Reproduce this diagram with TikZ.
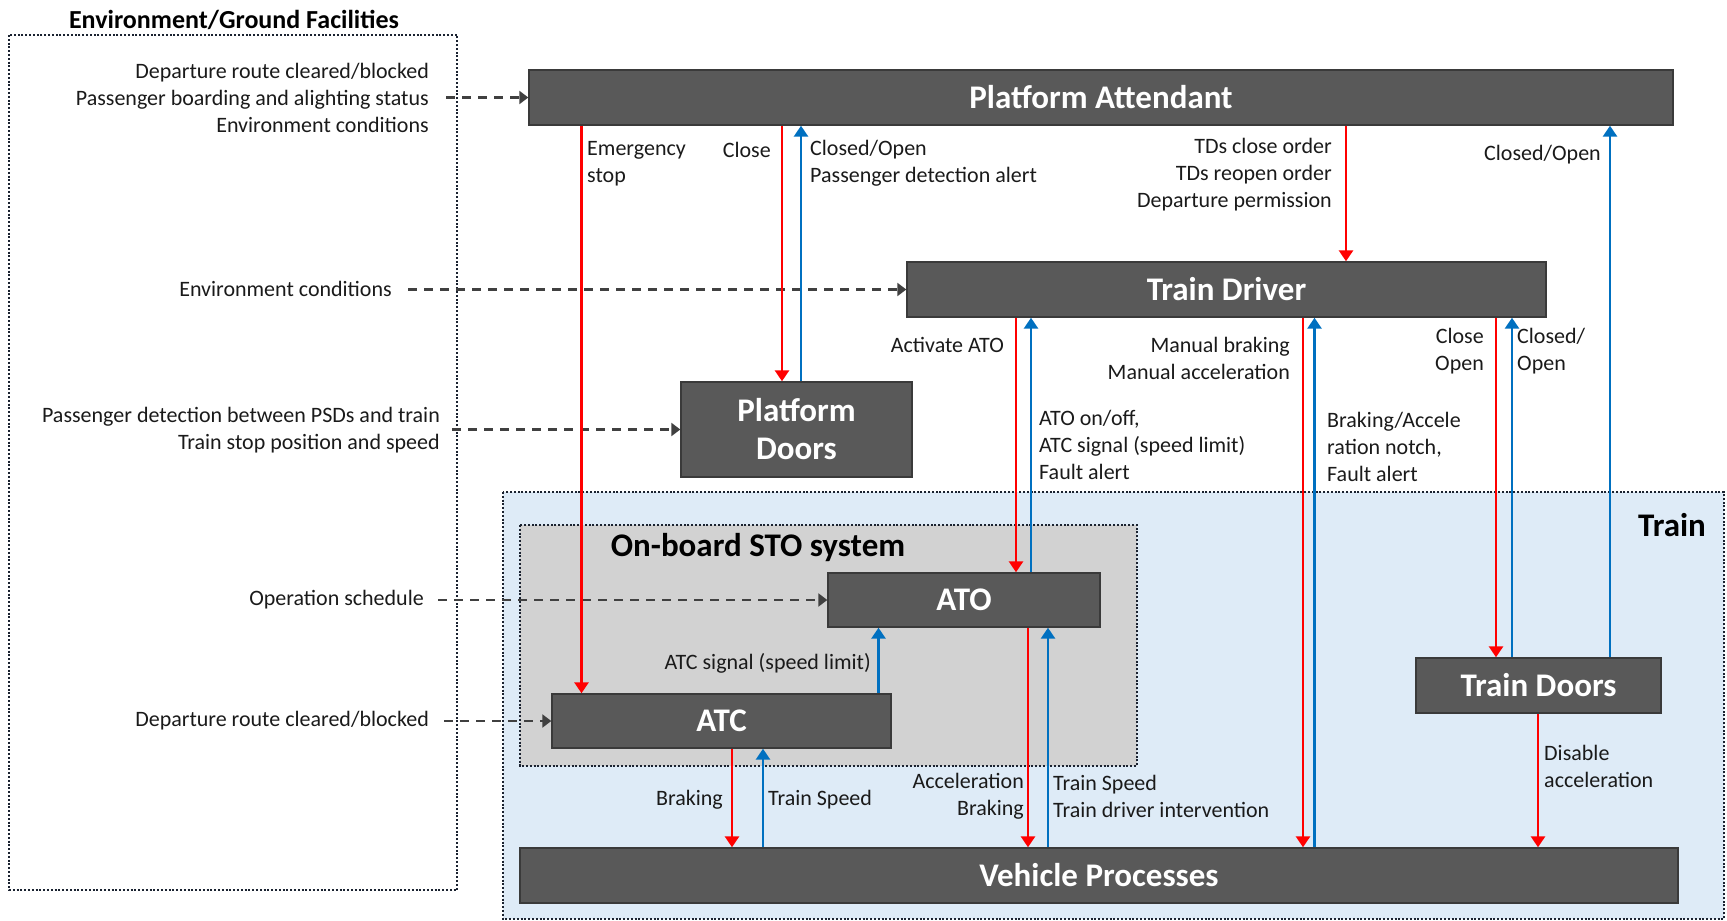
\documentclass[tikz,border=0pt]{standalone}
\usepackage{fontspec}
\setmainfont{Carlito}
\usetikzlibrary{arrows.meta}
\definecolor{boxfill}{HTML}{595959}
\definecolor{boxline}{HTML}{3A3A3A}
\definecolor{trainbg}{HTML}{DEEBF7}
\definecolor{stobg}{HTML}{D2D2D2}
\definecolor{flowred}{HTML}{FF0000}
\definecolor{flowblue}{HTML}{0070C0}
\definecolor{feedgray}{HTML}{404040}
\definecolor{frameline}{HTML}{1A2230}
\definecolor{labeltext}{HTML}{1A1A1A}

\begin{document}
\begin{tikzpicture}[x=1pt,y=-1pt,
  blk/.style={draw=boxline,line width=1.4pt,fill=boxfill,text=white,
    font=\bfseries\fontsize{33}{38}\selectfont,inner sep=0pt,align=center},
  lbl/.style={text=labeltext,font=\fontsize{22}{27}\selectfont,inner sep=0pt},
  lbll/.style={lbl,align=left,anchor=west},
  lblr/.style={lbl,align=right,anchor=east},
  heading/.style={font=\bfseries\fontsize{33}{38}\selectfont,inner sep=0pt},
  downred/.style={draw=flowred,line width=2.8pt,-{Triangle[width=14pt,length=11pt]}},
  upblue/.style={draw=flowblue,line width=2.8pt,-{Triangle[width=14pt,length=11pt]}},
  feed/.style={draw=feedgray,line width=2.4pt,dash pattern=on 9pt off 7pt,
    -{Triangle[width=13pt,length=9pt]}},
  dotframe/.style={draw=frameline,line width=2pt,dash pattern=on 2pt off 1.8pt}
]
\useasboundingbox (0,0) rectangle (1727,921);

% containers
\fill[trainbg] (503,492) rectangle (1724,919);
\draw[dotframe] (503,492) rectangle (1724,919);
\fill[stobg] (520,525) rectangle (1137,766);
\draw[dotframe] (520,525) rectangle (1137,766);
\draw[dotframe] (9,35) rectangle (457,890);

\node[heading,font=\bfseries\fontsize{26}{30}\selectfont] (envtitle) at (234,20) {Environment/Ground Facilities};
\node[heading] (traintitle) at (1672,525) {Train};
\node[heading] (stotitle) at (758,548) {On-board STO system};

% functional blocks
\node[blk,minimum width=1144pt,minimum height=55pt] (PA) at (1101,97.5) {Platform Attendant};
\node[blk,minimum width=639pt,minimum height=55pt] (TD) at (1226.5,289.5) {Train Driver};
\node[blk,minimum width=231pt,minimum height=95pt] (PD) at (796.5,429.5) {Platform\\Doors};
\node[blk,minimum width=272pt,minimum height=54pt] (ATO) at (964,600) {ATO};
\node[blk,minimum width=339pt,minimum height=54pt] (ATC) at (721.5,721) {ATC};
\node[blk,minimum width=245pt,minimum height=55pt] (TDR) at (1538.5,685.5) {Train Doors};
\node[blk,minimum width=1158pt,minimum height=55pt] (VP) at (1099,875.5) {Vehicle Processes};

% environment inputs
\node[lblr] (envA) at (429,98) {Departure route cleared/blocked\\Passenger boarding and alighting status\\Environment conditions};
\node[lblr] (envB) at (392,289) {Environment conditions};
\node[lblr] (envC) at (440,430.5) {Passenger detection between PSDs and train\\Train stop position and speed};
\node[lblr] (envD) at (424,600) {Operation schedule};
\node[lblr] (envE) at (429,721) {Departure route cleared/blocked};

\coordinate (fA) at (446,97.5);
\coordinate (fB) at (408,289.5);
\coordinate (fC) at (452,429.5);
\coordinate (fD) at (438,600);
\coordinate (fE) at (444,721);
\draw[feed] (fA) -- (PA.west);
\draw[feed] (fB) -- (TD.west);
\draw[feed] (fC) -- (PD.west);
\draw[feed] (fD) -- (ATO.west);
\draw[feed] (fE) -- (ATC.west);

% x positions of the vertical flows
\coordinate (x1) at (581.5,0);
\coordinate (x2) at (782,0);
\coordinate (x3) at (801,0);
\coordinate (x4) at (1346,0);
\coordinate (x5) at (1610,0);
\coordinate (x6) at (1016,0);
\coordinate (x7) at (1031,0);
\coordinate (x8) at (1303,0);
\coordinate (x9) at (1314.5,0);
\coordinate (x10) at (1496,0);
\coordinate (x11) at (1512,0);
\coordinate (x12) at (878.5,0);
\coordinate (x13) at (732,0);
\coordinate (x14) at (763,0);
\coordinate (x15) at (1028,0);
\coordinate (x16) at (1048,0);
\coordinate (x17) at (1538,0);

\draw[downred] (PA.south -| x1) -- (ATC.north -| x1);
\draw[downred] (PA.south -| x2) -- (PD.north -| x2);
\draw[upblue] (PD.north -| x3) -- (PA.south -| x3);
\draw[downred] (PA.south -| x4) -- (TD.north -| x4);
\draw[upblue] (TDR.north -| x5) -- (PA.south -| x5);
\draw[downred] (TD.south -| x6) -- (ATO.north -| x6);
\draw[upblue] (ATO.north -| x7) -- (TD.south -| x7);
\draw[downred] (TD.south -| x8) -- (VP.north -| x8);
\draw[upblue] (VP.north -| x9) -- (TD.south -| x9);
\draw[downred] (TD.south -| x10) -- (TDR.north -| x10);
\draw[upblue] (TDR.north -| x11) -- (TD.south -| x11);
\draw[upblue] (ATC.north -| x12) -- (ATO.south -| x12);
\draw[downred] (ATC.south -| x13) -- (VP.north -| x13);
\draw[upblue] (VP.north -| x14) -- (ATC.south -| x14);
\draw[downred] (ATO.south -| x15) -- (VP.north -| x15);
\draw[upblue] (VP.north -| x16) -- (ATO.south -| x16);
\draw[downred] (TDR.south -| x17) -- (VP.north -| x17);

% flow labels
\node[lbll] (l1) at (587,163.5) {Emergency\\stop};
\node[lblr] (l2) at (771,150) {Close};
\node[lbll] (l3) at (810,163.5) {Closed/Open\\Passenger detection alert};
\node[lblr] (l4) at (1332,175) {TDs close order\\TDs reopen order\\Departure permission};
\node[lblr] (l5) at (1601,155) {Closed/Open};
\node[lblr] (l6) at (1004,345) {Activate ATO};
\node[lbll] (l7) at (1039,445) {ATO on/off,\\ATC signal (speed limit)\\Fault alert};
\node[lblr] (l8) at (1290,358.5) {Manual braking\\Manual acceleration};
\node[lbll] (l9) at (1327,447) {Braking/Accele\\ration notch,\\Fault alert};
\node[lblr] (l10) at (1484,351) {Close\\Open};
\node[lbll] (l11) at (1517,351) {Closed/\\Open};
\node[lblr] (l12) at (871,663) {ATC signal (speed limit)};
\node[lblr] (l13) at (723,800) {Braking};
\node[lbll] (l14) at (768,800) {Train Speed};
\node[lblr] (l15) at (1024,796.5) {Acceleration\\Braking};
\node[lbll] (l16) at (1053,796.5) {Train Speed\\Train driver intervention};
\node[lbll] (l17) at (1544,766.5) {Disable\\acceleration};
\end{tikzpicture}
\end{document}
